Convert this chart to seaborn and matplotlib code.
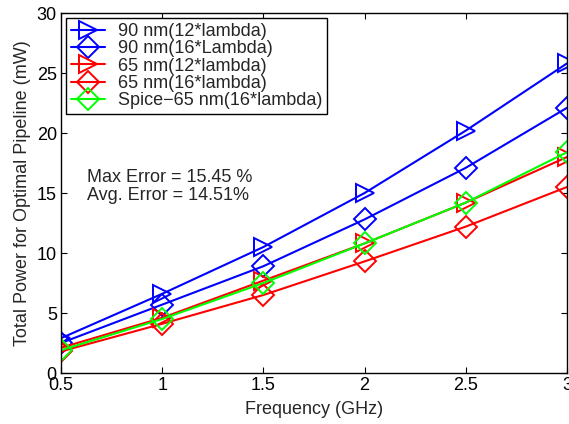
import numpy as np
import pandas as pd
import seaborn as sns
import matplotlib.pyplot as plt

freq = [0.5, 1.0, 1.5, 2.0, 2.5, 3.0]
p90_12 = [2.9, 6.6, 10.5, 15.0, 20.2, 25.8]
p90_16 = [2.5, 5.7, 8.9, 12.8, 17.1, 22.1]
p65_12 = [2.1, 4.6, 7.7, 10.8, 14.2, 18.0]
p65_16 = [1.8, 4.1, 6.5, 9.3, 12.2, 15.5]
spice_65_16 = [1.9, 4.5, 7.5, 10.8, 14.2, 18.4]

labels = ['90 nm(12*lambda)', '90 nm(16*Lambda)', '65 nm(12*lambda)',
          '65 nm(16*lambda)', 'Spice\u221265 nm(16*lambda)']
series = [p90_12, p90_16, p65_12, p65_16, spice_65_16]
colors = ['#0000ff', '#0000ff', '#ff0000', '#ff0000', '#00ff00']
markers = ['>', 'D', '>', 'D', 'D']

sns.set_style('ticks')
plt.rcParams['font.family'] = ['Liberation Sans', 'DejaVu Sans']
fs = 13

fig = plt.figure(figsize=(5.69, 4.24), dpi=100)
ax = fig.add_axes([61 / 569, 1 - 373 / 424, 506 / 569, 360 / 424])

for lab, vals, c, m in zip(labels, series, colors, markers):
    df = pd.DataFrame({'Frequency': freq, 'Power': vals})
    ms = 13 if m == '>' else 11
    sns.lineplot(data=df, x='Frequency', y='Power', ax=ax, color=c, marker=m,
                 markersize=ms, mfc='none', mec=c, mew=1.4, lw=1.5, label=lab)

ax.set_xlim(0.5, 3)
ax.set_ylim(0, 30)
ax.set_xticks(freq)
ax.set_xticklabels(['0.5', '1', '1.5', '2', '2.5', '3'])
ax.set_yticks([0, 5, 10, 15, 20, 25, 30])
ax.tick_params(direction='in', top=True, right=True, length=4, labelsize=fs,
               colors='black', pad=3)
for s in ax.spines.values():
    s.set_visible(True)
    s.set_color('black')
    s.set_linewidth(1)

ax.set_xlabel('Frequency (GHz)', fontsize=fs, labelpad=5)
ax.set_ylabel('Total Power for Optimal Pipeline (mW)', fontsize=fs, labelpad=4)

ax.text(0.63, 16.3, 'Max Error = 15.45 %', fontsize=fs, va='center')
ax.text(0.63, 14.8, 'Avg. Error = 14.51%', fontsize=fs, va='center')

leg = ax.legend(loc='upper left', fontsize=fs, frameon=True, fancybox=False,
                borderaxespad=0.3, handlelength=1.9, labelspacing=0.02,
                borderpad=0.25, handletextpad=0.7, edgecolor='black')
leg.get_frame().set_linewidth(1)
leg.get_frame().set_alpha(1)

fig.savefig('out.png', dpi=100)
